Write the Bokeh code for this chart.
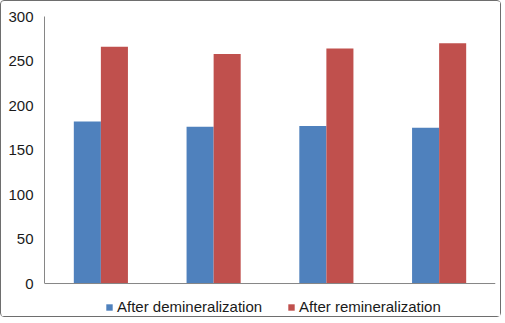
from bokeh.plotting import figure
from bokeh.models import Range1d, Legend, LegendItem, FixedTicker, ColumnDataSource, Span
from bokeh.transform import dodge
from bokeh.embed import file_html
from bokeh.resources import INLINE

# ---- data ----
groups = ["1", "2", "3", "4"]
after_demineralization = [182, 176, 177, 175]
after_remineralization = [266, 258, 264, 270]
series_names = ["After demineralization", "After remineralization"]
y_ticks = [0, 50, 100, 150, 200, 250, 300]

BLUE = "#4F81BD"
RED = "#C0504D"
FONT = "Liberation Sans"
AXIS = "#868686"

source = ColumnDataSource(data=dict(
    groups=groups,
    demin=after_demineralization,
    remin=after_remineralization,
))

# frame extends below zero so the legend can sit inside it
p = figure(
    x_range=groups,
    y_range=Range1d(-39.3, 300),
    width=501,
    height=317,
    output_backend="svg",
    toolbar_location=None,
    min_border_left=43,
    min_border_right=7,
    min_border_top=15,
    min_border_bottom=0,
    styles={"border": "1px solid #6e6e6e", "border-radius": "4px"},
)
p.outline_line_color = None
p.grid.visible = False
p.x_range.range_padding = 0
p.xaxis.visible = False

r1 = p.vbar(x=dodge("groups", -0.12, range=p.x_range), top="demin", width=0.24,
            source=source, fill_color=BLUE, line_color=None)
r2 = p.vbar(x=dodge("groups", 0.12, range=p.x_range), top="remin", width=0.24,
            source=source, fill_color=RED, line_color=None)

# baseline (category axis line)
p.add_layout(Span(location=0, dimension="width", line_color=AXIS, line_width=1))

# y axis
p.yaxis.ticker = FixedTicker(ticks=y_ticks)
p.yaxis.bounds = (0, 300)
p.yaxis.axis_line_color = AXIS
p.yaxis.major_tick_line_color = None
p.yaxis.minor_tick_line_color = None
p.yaxis.major_tick_out = 0
p.yaxis.major_label_standoff = 11
p.yaxis.major_label_text_font = FONT
p.yaxis.major_label_text_font_size = "15px"
p.yaxis.major_label_text_color = "#1a1a1a"

legend = Legend(
    items=[LegendItem(label=series_names[0], renderers=[r1]),
           LegendItem(label=series_names[1], renderers=[r2])],
    orientation="horizontal",
    location=(61, 3),
    border_line_color=None,
    background_fill_alpha=0,
    padding=0,
    margin=0,
    spacing=25,
    glyph_width=8,
    glyph_height=8,
    label_standoff=4,
    label_text_font=FONT,
    label_text_font_size="15px",
    label_text_color="#1a1a1a",
)
p.add_layout(legend)

open("out.html", "w").write(file_html(p, INLINE))
